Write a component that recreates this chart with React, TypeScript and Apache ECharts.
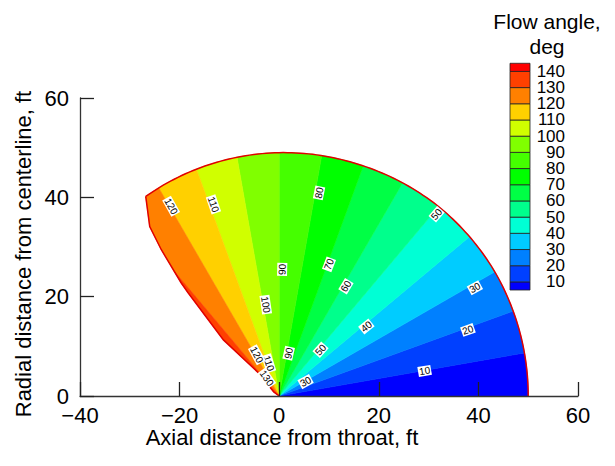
import React, { useEffect, useRef } from "react";
import * as echarts from "echarts";

// Contour levels (flow angle, deg) and band colours (below 10 ... above 140)
const LEVELS = [10, 20, 30, 40, 50, 60, 70, 80, 90, 100, 110, 120, 130, 140];
const BAND_COLORS = [
  "#0000ff", "#0040ff", "#0080ff", "#00ccff", "#00ffd5", "#00ff8c", "#00ff45",
  "#00ff00", "#45ff00", "#80ff00", "#d0ff00", "#ffd000", "#ff8000", "#ff4000", "#ff0000",
];

// Domain: outer rim (polar angle deg, radius ft) and left boundary (ft)
const RIM_ANGLES = [0, 30, 50, 70, 90, 110, 123.7];
const RIM_RADII = [50, 50, 49.8, 49.3, 49.0, 48.6, 48.3];
const EDGE_X = [-26.8, -26.0, -23.7, -19.7, -18.3, -11.2, -4.1, -1.1, 0];
const EDGE_Y = [40.2, 34.1, 29.5, 22.8, 20.8, 11.3, 4.6, 0.8, 0];

// Contour labels
const LABEL_TEXT = ["10", "20", "30", "40", "50", "60", "70", "80", "90", "100", "110", "120", "50", "30", "90", "110", "120", "130"];
const LABEL_X = [29.2, 37.9, 39.3, 17.5, 31.6, 13.4, 10.0, 8.0, 0.6, -2.7, -13.2, -21.7, 8.3, 5.3, 1.9, -2.1, -4.5, -2.5];
const LABEL_Y = [5.05, 13.3, 21.8, 14.0, 36.6, 22.1, 26.5, 40.9, 25.5, 18.4, 38.6, 38.2, 9.3, 2.9, 8.6, 6.6, 8.3, 3.6];

// Axes
const X_MIN = -40, X_MAX = 60, X_STEP = 20;
const Y_MIN = 0, Y_MAX = 60, Y_STEP = 20;

const FONT = "'Liberation Sans', Arial, Helvetica, sans-serif";

function rimRadius(a: number): number {
  for (let i = 1; i < RIM_ANGLES.length; i++) {
    if (a <= RIM_ANGLES[i]) {
      const t = (a - RIM_ANGLES[i - 1]) / (RIM_ANGLES[i] - RIM_ANGLES[i - 1]);
      return RIM_RADII[i - 1] + t * (RIM_RADII[i] - RIM_RADII[i - 1]);
    }
  }
  return RIM_RADII[RIM_RADII.length - 1];
}

function domainOutline(): number[][] {
  const pts: number[][] = [];
  const top = RIM_ANGLES[RIM_ANGLES.length - 1];
  const n = 125;
  for (let k = 0; k <= n; k++) {
    const a = (top * k) / n;
    const r = rimRadius(a);
    const rad = (a * Math.PI) / 180;
    pts.push([r * Math.cos(rad), r * Math.sin(rad)]);
  }
  for (let i = 0; i < EDGE_X.length; i++) pts.push([EDGE_X[i], EDGE_Y[i]]);
  return pts;
}

function clipHalf(poly: number[][], nx: number, ny: number): number[][] {
  const out: number[][] = [];
  const f = (p: number[]) => nx * p[0] + ny * p[1];
  for (let i = 0; i < poly.length; i++) {
    const p = poly[i];
    const q = poly[(i + 1) % poly.length];
    const fp = f(p), fq = f(q);
    if (fp >= 0) out.push(p);
    if ((fp >= 0) !== (fq >= 0)) {
      const t = fp / (fp - fq);
      out.push([p[0] + t * (q[0] - p[0]), p[1] + t * (q[1] - p[1])]);
    }
  }
  return out;
}

function bandPolygon(i: number): number[][] {
  const lo = i === 0 ? 0 : LEVELS[i - 1];
  const hi = i === LEVELS.length ? 180 : LEVELS[i];
  const a = (lo * Math.PI) / 180, b = (hi * Math.PI) / 180;
  let poly = domainOutline();
  poly = clipHalf(poly, -Math.sin(a), Math.cos(a));
  poly = clipHalf(poly, Math.sin(b), -Math.cos(b));
  return poly;
}

export default function App() {
  const ref = useRef<HTMLDivElement>(null);
  useEffect(() => {
    if (!ref.current) return;
    const chart = echarts.init(ref.current, undefined, { renderer: "svg" });

    const cbLo = BAND_COLORS.map((_, i) => (i === 0 ? LEVELS[0] - 5 : LEVELS[i - 1]));
    const cbHi = BAND_COLORS.map((_, i) => (i === LEVELS.length ? LEVELS[LEVELS.length - 1] + 5 : LEVELS[i]));

    const option: any = {
      animation: false,
      backgroundColor: "#ffffff",
      grid: [
        { left: 80, top: 98, width: 498, height: 298 },
        { left: 510, top: 55.2, width: 20, height: 242.9 },
      ],
      xAxis: [
        {
          type: "value", gridIndex: 0, min: X_MIN, max: X_MAX, interval: X_STEP, z: 10,
          axisLine: { show: true, onZero: false, lineStyle: { color: "#333", width: 1.3 } },
          axisTick: { show: true, inside: true, length: 14, lineStyle: { color: "#222", width: 1.3 } },
          splitLine: { show: false },
          axisLabel: {
            color: "#000", fontSize: 22, lineHeight: 20, fontFamily: FONT, margin: 9,
            formatter: (v: number) => (v < 0 ? "\u2212" + Math.abs(v) : String(v)),
          },
        },
        { type: "value", gridIndex: 1, min: 0, max: 1, show: false },
      ],
      yAxis: [
        {
          type: "value", gridIndex: 0, min: Y_MIN, max: Y_MAX, interval: Y_STEP, z: 10,
          axisLine: { show: true, onZero: false, lineStyle: { color: "#333", width: 1.3 } },
          axisTick: { show: true, inside: true, length: 14, lineStyle: { color: "#222", width: 1.3 } },
          splitLine: { show: false },
          axisLabel: { color: "#000", fontSize: 22, lineHeight: 16, fontFamily: FONT, margin: 11 },
        },
        {
          type: "value", gridIndex: 1, min: 0, max: 150, interval: 10, position: "right",
          axisLine: { show: false }, axisTick: { show: false }, splitLine: { show: false },
          axisLabel: {
            color: "#000", fontSize: 17, lineHeight: 14, fontFamily: FONT, margin: 35, align: "right",
            formatter: (v: number) => (v >= LEVELS[0] && v <= LEVELS[LEVELS.length - 1] ? String(v) : ""),
          },
        },
      ],
      graphic: [
        {
          type: "text", x: 282, y: 437,
          style: { text: "Axial distance from throat, ft", font: `22px ${FONT}`, fill: "#000", align: "center", verticalAlign: "middle" },
        },
        {
          type: "text", x: 23, y: 254, rotation: Math.PI / 2,
          style: { text: "Radial distance from centerline, ft", font: `22px ${FONT}`, fill: "#000", align: "center", verticalAlign: "middle" },
        },
        {
          type: "text", x: 547, y: 9,
          style: { text: "Flow angle,\ndeg", font: `21px ${FONT}`, lineHeight: 25, fill: "#000", align: "center", verticalAlign: "top" },
        },
      ],
      series: [
        {
          type: "custom", xAxisIndex: 0, yAxisIndex: 0, clip: false, z: 2,
          data: BAND_COLORS.map((_, i) => [i, 0]),
          renderItem: (params: any, api: any) => {
            const i = api.value(0);
            const poly = bandPolygon(i);
            if (poly.length < 3) return null;
            const pts = poly.map((p) => api.coord(p));
            return {
              type: "polygon",
              shape: { points: pts },
              style: { fill: BAND_COLORS[i], stroke: BAND_COLORS[i], lineWidth: 0.6 },
            };
          },
        },
        {
          type: "custom", xAxisIndex: 0, yAxisIndex: 0, clip: false, z: 3,
          data: [[0, 0]],
          renderItem: (params: any, api: any) => {
            const pts = domainOutline().map((p) => api.coord(p));
            return {
              type: "polyline",
              shape: { points: pts },
              style: { fill: "none", stroke: "#e00000", lineWidth: 1.5 },
            };
          },
        },
        {
          type: "custom", xAxisIndex: 0, yAxisIndex: 0, clip: false, z: 4,
          data: LABEL_TEXT.map((t, i) => [LABEL_X[i], LABEL_Y[i], i]),
          renderItem: (params: any, api: any) => {
            const x = api.value(0), y = api.value(1), i = api.value(2);
            const p = api.coord([x, y]);
            const ang = (Math.atan2(y, x) * 180) / Math.PI;
            const rot = ang <= 90 ? ang : ang - 180;
            return {
              type: "text", x: p[0], y: p[1], rotation: (rot * Math.PI) / 180,
              style: {
                text: LABEL_TEXT[i], fill: "#000", font: `10px ${FONT}`,
                align: "center", verticalAlign: "middle",
                backgroundColor: "#ffffff", padding: [0, 1],
              },
            };
          },
        },
        {
          type: "custom", xAxisIndex: 1, yAxisIndex: 1, clip: false, z: 2,
          data: BAND_COLORS.map((_, i) => [cbLo[i], cbHi[i], i]),
          renderItem: (params: any, api: any) => {
            const lo = api.value(0), hi = api.value(1), i = api.value(2);
            const p1 = api.coord([0, hi]);
            const p2 = api.coord([1, lo]);
            return {
              type: "rect",
              shape: { x: p1[0], y: p1[1], width: p2[0] - p1[0], height: p2[1] - p1[1] },
              style: { fill: BAND_COLORS[i], stroke: "#222", lineWidth: 0.8 },
            };
          },
        },
      ],
    };
    chart.setOption(option);
    return () => chart.dispose();
  }, []);
  return <div ref={ref} style={{ position: "fixed", left: 0, top: 0, width: 615, height: 466 }} />;
}
